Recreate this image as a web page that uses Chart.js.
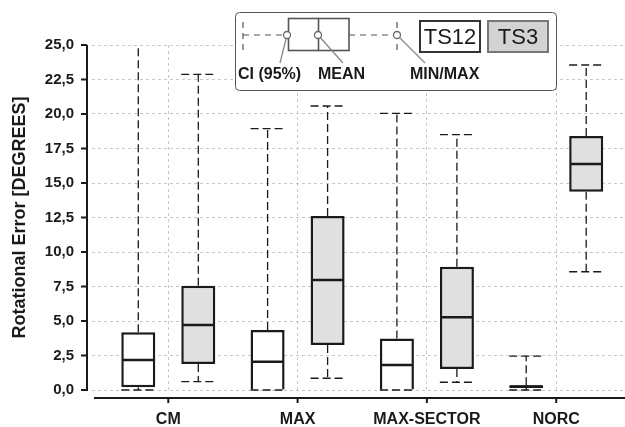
<html>
  <head>
   <title>Rotational Error</title>
   <script src="https://cdn.jsdelivr.net/npm/chart.js@4.4.0/dist/chart.umd.min.js"></script>
   <style>
    body{
      margin:0;
      background:#fff;
    }
    #wrap{
      width:625px;
      height:427px;
      position:relative;
    }
   </style>
  </head>

  <body>
    <div id="wrap"><canvas id="box-chart"></canvas></div>
  </body>

  <script>
    // categories on the x axis
    var categories = ['CM', 'MAX', 'MAX-SECTOR', 'NORC'];
    var seriesNames = ['TS12', 'TS3'];

    // TS12 : min, CI low, mean, CI high, max
    var ts12Min  = [0.0, 0.0, 0.0, 0.0];
    var ts12Low  = [0.2, 0.0, 0.0, 0.15];
    var ts12Mean = [2.17, 2.05, 1.81, 0.25];
    var ts12High = [4.18, 4.35, 3.74, 0.35];
    var ts12Max  = [25.0, 18.94, 20.05, 2.46];

    // TS3 : min, CI low, mean, CI high, max
    var ts3Min  = [0.6, 0.85, 0.56, 8.57];
    var ts3Low  = [1.88, 3.26, 1.52, 14.37];
    var ts3Mean = [4.71, 7.97, 5.27, 16.38];
    var ts3High = [7.56, 12.6, 8.94, 18.4];
    var ts3Max  = [22.87, 20.58, 18.5, 23.55];

    // y axis ticks
    var yTicks = [0, 2.5, 5, 7.5, 10, 12.5, 15, 17.5, 20, 22.5, 25];

    var series = [
      {mins: ts12Min, lows: ts12Low, means: ts12Mean, highs: ts12High, maxs: ts12Max},
      {mins: ts3Min, lows: ts3Low, means: ts3Mean, highs: ts3High, maxs: ts3Max}
    ];

    function boxData(lows, highs){
      var out = [];
      for (i=0; i<categories.length; i++){
        out.push({x: i, y: [lows[i], highs[i]]});
      }
      return out;
    }

    function line(ctx, x1, y1, x2, y2){
      ctx.beginPath();
      ctx.moveTo(x1, y1);
      ctx.lineTo(x2, y2);
      ctx.stroke();
    }

    // whiskers, caps and mean lines on top of the bars
    var boxExtras = {
      id: 'boxExtras',
      afterDatasetsDraw(chart){
        var ctx = chart.ctx;
        var ys = chart.scales.y;
        series.forEach(function(s, di){
          var meta = chart.getDatasetMeta(di);
          meta.data.forEach(function(bar, i){
            var x = bar.x, half = bar.width / 2;
            var yMin = ys.getPixelForValue(s.mins[i]);
            var yLow = ys.getPixelForValue(s.lows[i]);
            var yMean = ys.getPixelForValue(s.means[i]);
            var yHigh = ys.getPixelForValue(s.highs[i]);
            var yMax = ys.getPixelForValue(s.maxs[i]);
            ctx.save();
            ctx.strokeStyle = '#1a1a1a';
            ctx.lineWidth = 1.3;
            ctx.setLineDash([8, 4]);
            if (yMin - yLow > 1) line(ctx, x, yLow, x, yMin);
            line(ctx, x, yHigh, x, yMax);
            line(ctx, x - half, yMin, x + half, yMin);
            if (s.maxs[i] < 25) line(ctx, x - half, yMax, x + half, yMax);
            ctx.setLineDash([]);
            ctx.lineWidth = 2.5;
            line(ctx, x - half + 1, yMean, x + half - 1, yMean);
            ctx.restore();
          });
        });
      },
      afterDraw(chart){
        var ctx = chart.ctx;
        var area = chart.chartArea;
        var ys = chart.scales.y;
        var xs = chart.scales.x;
        ctx.save();
        ctx.strokeStyle = '#1a1a1a';
        ctx.lineWidth = 2;
        // y axis, offset from the plot
        var ax = area.left - 5;
        line(ctx, ax, ys.getPixelForValue(25), ax, ys.getPixelForValue(0) + 1);
        yTicks.forEach(function(t){
          var py = ys.getPixelForValue(t);
          line(ctx, ax - 6, py, ax, py);
        });
        // x axis
        var ay = area.bottom + 8;
        line(ctx, area.left + 2, ay, area.right, ay);
        for (i=0; i<categories.length; i++){
          var px = xs.getPixelForValue(i);
          line(ctx, px, ay, px, ay + 5);
        }
        ctx.restore();
        drawLegend(ctx);
      }
    };

    function drawLegend(ctx){
      ctx.save();
      // frame
      ctx.fillStyle = '#fff';
      ctx.strokeStyle = '#555';
      ctx.lineWidth = 1;
      ctx.beginPath();
      ctx.roundRect(235.5, 12.5, 321, 78, 4);
      ctx.fill();
      ctx.stroke();

      // small box diagram
      ctx.strokeStyle = '#555';
      ctx.lineWidth = 1.2;
      ctx.setLineDash([6, 5]);
      line(ctx, 243, 35, 288, 35);
      line(ctx, 349, 35, 397, 35);
      line(ctx, 243, 22, 243, 50);
      line(ctx, 397, 22, 397, 50);
      ctx.setLineDash([]);
      ctx.lineWidth = 1.6;
      ctx.strokeRect(288.5, 18.5, 60.5, 32);
      line(ctx, 318.5, 18.5, 318.5, 50.5);

      // leader lines and circles
      ctx.strokeStyle = '#888';
      ctx.lineWidth = 1.3;
      line(ctx, 287, 35, 280, 63);
      line(ctx, 318, 35, 343, 63);
      line(ctx, 397, 35, 425, 63);
      [[287, 35], [318, 35], [397, 35]].forEach(function(p){
        ctx.beginPath();
        ctx.arc(p[0], p[1], 3.5, 0, Math.PI * 2);
        ctx.fillStyle = '#fff';
        ctx.fill();
        ctx.strokeStyle = '#666';
        ctx.stroke();
      });

      ctx.fillStyle = '#1a1a1a';
      ctx.font = 'bold 16px "Liberation Sans", Arial, sans-serif';
      ctx.textBaseline = 'middle';
      ctx.textAlign = 'left';
      ctx.fillText('CI (95%)', 238, 75);
      ctx.fillText('MEAN', 318, 75);
      ctx.fillText('MIN/MAX', 410, 75);

      // series swatches
      ctx.lineWidth = 2;
      ctx.fillStyle = '#fff';
      ctx.strokeStyle = '#333';
      ctx.fillRect(420, 21, 60, 31);
      ctx.strokeRect(420, 21, 60, 31);
      ctx.fillStyle = '#d3d3d3';
      ctx.strokeStyle = '#777';
      ctx.fillRect(488, 21, 60, 31);
      ctx.strokeRect(488, 21, 60, 31);
      ctx.fillStyle = '#1a1a1a';
      ctx.font = '22px "Liberation Sans", Arial, sans-serif';
      ctx.textAlign = 'center';
      ctx.fillText(seriesNames[0], 450, 37.5);
      ctx.fillText(seriesNames[1], 518, 37.5);
      ctx.restore();
    }

    var gridColor = '#c8c8c8';

    new Chart(document.getElementById('box-chart'), {
      type: 'bar',
      data: {
        datasets: [
          {
            label: seriesNames[0],
            data: boxData(ts12Low, ts12High),
            backgroundColor: '#ffffff',
            borderColor: '#1a1a1a',
            borderWidth: 2.5,
            borderSkipped: function(c){ return ts12Low[c.dataIndex] === 0 ? 'bottom' : false; }
          },
          {
            label: seriesNames[1],
            data: boxData(ts3Low, ts3High),
            backgroundColor: '#e0e0e0',
            borderColor: '#1a1a1a',
            borderWidth: 2.5,
            borderSkipped: false
          }
        ]
      },
      options: {
        responsive: true,
        maintainAspectRatio: false,
        animation: false,
        layout: { padding: { top: 45, right: 0, bottom: 0, left: 0 } },
        categoryPercentage: 0.928,
        barPercentage: 0.567,
        plugins: {
          legend: { display: false },
          tooltip: { enabled: false }
        },
        scales: {
          x: {
            type: 'linear',
            min: -0.59,
            max: 3.532,
            offset: false,
            afterBuildTicks: function(scale){
              scale.ticks = categories.map(function(c, i){ return {value: i}; });
            },
            afterFit: function(scale){ scale.height = 37; },
            grid: { color: gridColor, drawTicks: false, offset: false },
            border: { display: false, dash: [3, 3] },
            ticks: {
              autoSkip: false,
              maxRotation: 0,
              padding: 20,
              color: '#1a1a1a',
              font: { family: '"Liberation Sans", Arial, sans-serif', size: 16, weight: 'bold' },
              callback: function(v){ return categories[v]; }
            }
          },
          y: {
            min: 0,
            max: 25,
            afterBuildTicks: function(scale){
              scale.ticks = yTicks.map(function(t){ return {value: t}; });
            },
            afterFit: function(scale){ scale.width = 92; },
            grid: { color: gridColor, drawTicks: false },
            border: { display: false, dash: [3, 3] },
            ticks: {
              padding: 18,
              color: '#1a1a1a',
              font: { family: '"Liberation Sans", Arial, sans-serif', size: 15, weight: 'bold' },
              callback: function(v){ return v.toFixed(1).replace('.', ','); }
            },
            title: {
              display: true,
              text: 'Rotational Error [DEGREES]',
              color: '#1a1a1a',
              padding: { top: 9, bottom: 0 },
              font: { family: '"Liberation Sans", Arial, sans-serif', size: 18, weight: 'bold' }
            }
          }
        }
      },
      plugins: [boxExtras]
    });
  </script>
</html>
